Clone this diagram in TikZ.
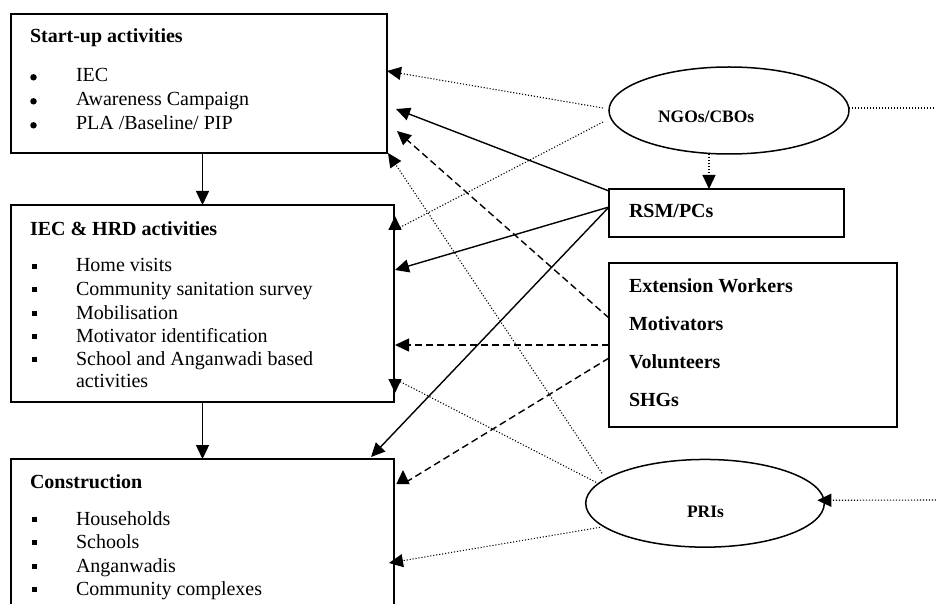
\documentclass[tikz,border=0pt]{standalone}
\usepackage{fontspec}
\setmainfont{Liberation Serif}
\usetikzlibrary{arrows.meta,shapes.geometric,calc}
\begin{document}
\begin{tikzpicture}[x=1bp,y=-1bp,
  boxnode/.style={draw,line width=1.5bp,rectangle,inner sep=0pt,outer sep=0pt,anchor=north west},
  ellnode/.style={draw,line width=1.5bp,ellipse,inner sep=0pt,outer sep=0pt},
  txt/.style={anchor=base west,inner sep=0pt,outer sep=0pt,font=\fontsize{20bp}{24bp}\selectfont},
  btxt/.style={anchor=base west,inner sep=0pt,outer sep=0pt,font=\fontsize{20bp}{24bp}\selectfont\bfseries},
  stxt/.style={anchor=base west,inner sep=0pt,outer sep=0pt,font=\fontsize{17.5bp}{21bp}\selectfont\bfseries},
  dotbullet/.style={circle,fill,inner sep=0pt,outer sep=0pt,minimum size=6.5bp},
  sqbullet/.style={rectangle,fill,inner sep=0pt,outer sep=0pt,minimum size=5bp},
  tip/.style={-{Triangle[length=14bp,width=13bp]}},
  solidln/.style={line width=1.4bp,tip},
  dashln/.style={line width=1.4bp,dash pattern=on 7bp off 4bp,tip},
  dotln/.style={line width=1.1bp,dash pattern=on 1.1bp off 1.9bp},
  dotarr/.style={dotln,tip},
]
\useasboundingbox (0,0) rectangle (936,604);

% ---------- left boxes ----------
\node[boxnode,minimum width=376bp,minimum height=139bp] (b1) at (11,14) {};
\node[boxnode,minimum width=383bp,minimum height=197bp] (b2) at (11,205) {};
\node[boxnode,minimum width=383bp,minimum height=181bp] (b3) at (11,459) {};

% box 1 text
\node[btxt] (b1title) at (30,43) {Start-up activities};
\foreach \yy/\tt [count=\i] in {82/{IEC},106/{Awareness Campaign},130/{PLA /Baseline/ PIP}}{
  \node[dotbullet] (b1b\i) at (33.5,\yy-4.7) {};
  \node[txt] (b1t\i) at (76,\yy) {\tt};
}

% box 2 text
\node[btxt] (b2title) at (30,236) {IEC \& HRD activities};
\foreach \yy/\tt [count=\i] in {272/{Home visits},295/{Community sanitation survey},319/{Mobilisation},342/{Motivator identification},365/{School and Anganwadi based}}{
  \node[sqbullet] (b2b\i) at (34.5,\yy-5.5) {};
  \node[txt] (b2t\i) at (76,\yy) {\tt};
}
\node[txt] (b2t6) at (76,387) {activities};

% box 3 text
\node[btxt] (b3title) at (30,488) {Construction};
\foreach \yy/\tt [count=\i] in {525/{Households},548/{Schools},572/{Anganwadis},595/{Community complexes}}{
  \node[sqbullet] (b3b\i) at (34.5,\yy-5.5) {};
  \node[txt] (b3t\i) at (76,\yy) {\tt};
}

% ---------- right side ----------
\node[ellnode,minimum width=240bp,minimum height=87bp] (ngo) at (729,110.5) {};
\node[stxt] (ngotxt) at (658,123) {NGOs/CBOs};

\node[boxnode,minimum width=235bp,minimum height=48bp] (rsm) at (609,189) {};
\node[btxt] (rsmtxt) at (629,218) {RSM/PCs};

\node[boxnode,minimum width=288bp,minimum height=164bp] (ext) at (609,263) {};
\node[btxt] (ext1) at (629,292) {Extension Workers};
\node[btxt] (ext2) at (629,330) {Motivators};
\node[btxt] (ext3) at (629,368) {Volunteers};
\node[btxt] (ext4) at (629,406) {SHGs};

\node[ellnode,minimum width=238.6bp,minimum height=87.7bp] (pri) at (705,503.3) {};
\node[stxt] (pritxt) at (687,517) {PRIs};

\coordinate (ngoout) at (936,108);
\coordinate (priin) at (936,500);

% ---------- vertical flow ----------
\draw[solidln] (b2.north |- b1.south) -- (b2.north);
\draw[solidln] (b2.south) -- (b3.north);

% ---------- NGOs/CBOs ----------
\draw[dotarr] ($(ngo.west)+(-6,-2.5)$) -- ($(b1.north east)+(0,57)$);
\draw[dotarr] ($(ngo.west)+(-6,11.5)$) -- ($(b2.north east)+(1,25)$) -- ($(b2.north east)+(1,11)$);
\draw[dotln] ($(ngo.east)+(0,-2.5)$) -- (ngoout);
\draw[dotarr] ($(ngo.south)+(-20,0)$) -- ($(rsm.north west)+(100,0)$);

% ---------- RSM/PCs ----------
\draw[solidln] ($(rsm.north west)+(0,2)$) -- ($(b1.north east)+(9,95)$);
\draw[solidln] ($(rsm.north west)+(0,18)$) -- ($(b2.north east)+(1,65)$);
\draw[solidln] ($(rsm.north west)+(0,18)$) -- ($(b3.north east)+(-23,-2)$);

% ---------- Extension workers ----------
\draw[dashln] ($(ext.north west)+(0,55)$) -- ($(b1.north east)+(10,117)$);
\draw[dashln] ($(ext.north west)+(0,82)$) -- ($(b2.north east)+(1,140)$);
\draw[dashln] ($(ext.north west)+(0,95)$) -- ($(b3.north east)+(9,25)$) -- ($(b3.north east)+(9,11)$);

% ---------- PRIs ----------
\draw[dotarr] ($(pri.center)+(-103,-30)$) -- ($(b1.south east)+(1,0)$);
\draw[dotarr] ($(pri.center)+(-109,-21)$) -- ($(b2.south east)+(1,-23)$) -- ($(b2.south east)+(1,-9)$);
\draw[dotarr] ($(pri.center)+(-105,24)$) -- ($(b3.north east)+(-5,104)$);
\draw[dotarr] (priin) -- ($(pri.east)+(-7,-3)$);
\end{tikzpicture}
\end{document}
